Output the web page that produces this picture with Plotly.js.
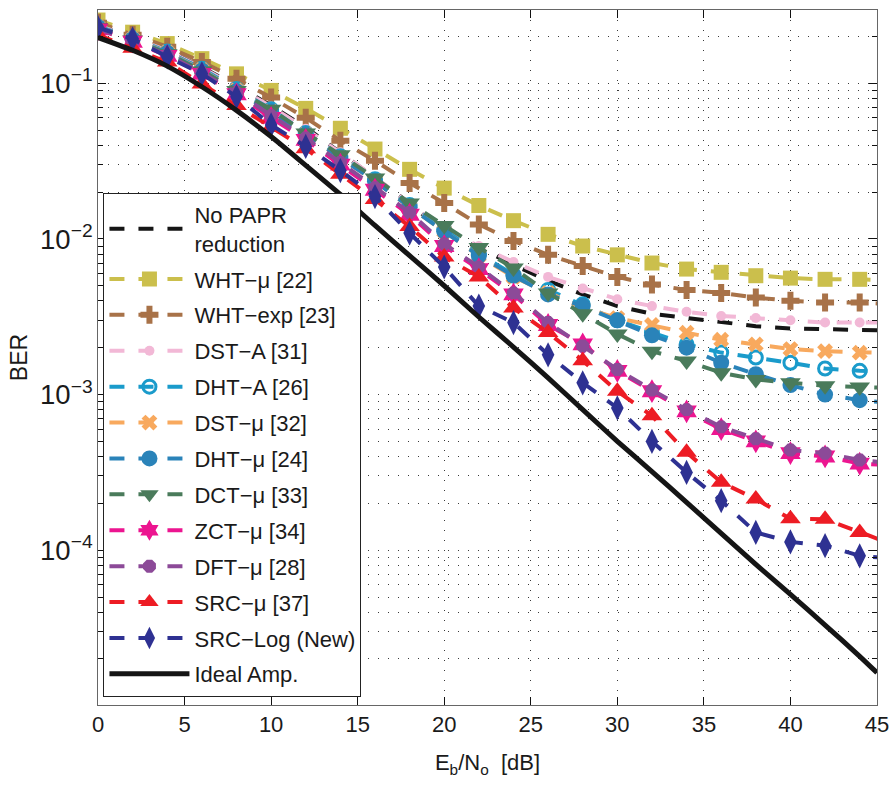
<!DOCTYPE html>
<html>
<head>
<meta charset="utf-8">
<script src="https://cdn.plot.ly/plotly-3.0.1.min.js"></script>
<style>html,body{margin:0;padding:0;background:#fff}</style>
</head>
<body>
<div id="chart" style="width:895px;height:787px"></div>
<script>
// Eb/No sample points (dB); the point at 46 lies past the axis end and only carries the line to the frame
const ebno = [0,2,4,6,8,10,12,14,16,18,20,22,24,26,28,30,32,34,36,38,40,42,44,46];

const noPapr  = [0.235,0.198,0.163,0.127,0.096,0.072,0.052,0.036,0.025,0.017,0.0109,0.0088,0.0068,0.0054,0.0044,0.0037,0.0033,0.0031,0.0029,0.00275,0.00266,0.00262,0.00259,0.00257];
const whtMu   = [0.255,0.213,0.180,0.144,0.115,0.090,0.069,0.0514,0.0378,0.028,0.0212,0.0164,0.0131,0.0107,0.0090,0.0079,0.0070,0.0064,0.0061,0.0058,0.0056,0.0055,0.0055,0.0054];
const whtExp  = [0.245,0.205,0.172,0.137,0.107,0.081,0.060,0.0428,0.0318,0.0229,0.0170,0.0124,0.0097,0.0079,0.0067,0.0057,0.0051,0.0047,0.0045,0.0042,0.0040,0.0039,0.0039,0.0038];
const dstA    = [0.235,0.197,0.162,0.126,0.095,0.071,0.051,0.036,0.025,0.0168,0.0115,0.0090,0.0071,0.0057,0.0048,0.0041,0.0037,0.0034,0.0032,0.0031,0.0030,0.0029,0.0029,0.0029];
const dhtA    = [0.232,0.195,0.160,0.124,0.092,0.068,0.048,0.034,0.0242,0.0165,0.0115,0.0080,0.0059,0.0047,0.0038,0.0030,0.0025,0.0021,0.00186,0.00173,0.00160,0.00147,0.00142,0.00140];
const dstMu   = [0.230,0.193,0.158,0.122,0.090,0.066,0.047,0.033,0.0235,0.016,0.0112,0.0078,0.0057,0.0045,0.0036,0.0031,0.0028,0.0025,0.00225,0.0021,0.00196,0.0019,0.00186,0.00184];
const dhtMu   = [0.230,0.192,0.157,0.121,0.089,0.066,0.047,0.033,0.0235,0.016,0.0112,0.0078,0.0058,0.0044,0.0037,0.0030,0.0024,0.0020,0.0016,0.00135,0.00115,0.0010,0.00092,0.00088];
const dctMu   = [0.228,0.190,0.155,0.120,0.090,0.068,0.048,0.0347,0.0246,0.017,0.0122,0.0088,0.0065,0.0045,0.0033,0.00245,0.0019,0.00164,0.00138,0.00125,0.00119,0.00114,0.00112,0.0011];
const zctMu   = [0.222,0.185,0.150,0.115,0.085,0.060,0.0433,0.030,0.0207,0.0143,0.0090,0.0064,0.0044,0.0028,0.0021,0.00142,0.00105,0.00078,0.00060,0.00050,0.00042,0.00040,0.00036,0.00035];
const dftMu   = [0.224,0.187,0.152,0.117,0.087,0.062,0.0445,0.031,0.0213,0.0148,0.0093,0.0066,0.0045,0.0029,0.00205,0.00145,0.00107,0.00080,0.00062,0.00052,0.00044,0.00042,0.00038,0.00036];
const srcMu   = [0.205,0.168,0.137,0.099,0.072,0.052,0.038,0.026,0.0179,0.012,0.00765,0.0057,0.0036,0.0025,0.00165,0.00105,0.00073,0.000425,0.000273,0.000213,0.000159,0.000158,0.00013,0.000108];
const srcLog  = [0.228,0.193,0.148,0.115,0.082,0.054,0.0393,0.0275,0.0187,0.0109,0.0066,0.0037,0.0029,0.0018,0.00119,0.00082,0.0005,0.000316,0.000208,0.00013,0.000113,0.000107,0.000092,0.000088];

// ideal amplifier reference curve
const idealX = [0,2,4,6,8,10,12,14,16,18,20,22,24,26,28,30,32,34,36,38,40,42,44,45];
const ideal  = [0.197,0.163,0.129,0.095,0.067,0.0455,0.0297,0.0193,0.0122,0.0078,0.0050,0.00315,0.00202,0.00128,0.0008,0.0005,0.00032,0.000203,0.000128,0.000081,0.000052,0.000033,0.0000208,0.0000163];

const seriesNames = ['No PAPR<br>reduction','WHT\u2212\u03bc [22]','WHT\u2212exp [23]','DST\u2212A [31]','DHT\u2212A [26]','DST\u2212\u03bc [32]','DHT\u2212\u03bc [24]','DCT\u2212\u03bc [33]','ZCT\u2212\u03bc [34]','DFT\u2212\u03bc [28]','SRC\u2212\u03bc [37]','SRC\u2212Log (New)','Ideal Amp.'];

const DASH = '15px,14px';
function curve(name, y, color, symbol, size, extra) {
  const t = {
    x: ebno, y: y, name: name, type: 'scatter', mode: 'lines+markers',
    line: {color: color, width: 4, dash: DASH},
    marker: {symbol: symbol, size: size, color: color, line: {width: 0, color: color}},
    cliponaxis: true
  };
  return Object.assign(t, extra || {});
}

const traces = [
  {x: ebno, y: noPapr, name: seriesNames[0], type: 'scatter', mode: 'lines',
   line: {color: '#151515', width: 4, dash: DASH}},
  curve(seriesNames[1], whtMu, '#cbbf4c', 'square', 15),
  curve(seriesNames[2], whtExp, '#a87248', 'cross', 15),
  curve(seriesNames[3], dstA, '#f2b8d6', 'circle', 10),
  curve(seriesNames[4], dhtA, '#1a9bcb', 'circle-open', 13, {marker: {symbol: 'circle-open', size: 13, color: '#1a9bcb', line: {width: 3, color: '#1a9bcb'}}}),
  curve(seriesNames[5], dstMu, '#f8a95e', 'x', 14),
  curve(seriesNames[6], dhtMu, '#2a83b9', 'circle', 16),
  curve(seriesNames[7], dctMu, '#4a7b5b', 'triangle-down', 18),
  curve(seriesNames[8], zctMu, '#ec1590', 'hexagram', 18),
  curve(seriesNames[9], dftMu, '#8c4a98', 'octagon', 14),
  curve(seriesNames[10], srcMu, '#ed1c24', 'triangle-up', 18),
  curve(seriesNames[11], srcLog, '#2e3192', 'diamond-tall', 18),
  {x: idealX, y: ideal, name: seriesNames[12], type: 'scatter', mode: 'lines',
   line: {color: '#151515', width: 5, shape: 'spline', smoothing: 0.5}}
];
// one legend group per curve, so the group gap sets the spacing between entries
traces.forEach((t, i) => { t.legendgroup = 'g' + i; });

const FONT = 'Liberation Sans, Arial, Helvetica, sans-serif';
const GRID = '#3a3a3a';

const layout = {
  width: 895, height: 787,
  margin: {l: 98, r: 18, t: 10, b: 82},
  paper_bgcolor: '#fff', plot_bgcolor: '#fff',
  font: {family: FONT, size: 22, color: '#1a1a1a'},
  showlegend: true,
  legend: {
    x: 0.007, y: 0.012, xanchor: 'left', yanchor: 'bottom',
    bgcolor: '#fff', bordercolor: '#222', borderwidth: 1,
    font: {family: FONT, size: 22, color: '#1a1a1a'},
    itemwidth: 80, tracegroupgap: 4.3, traceorder: 'grouped'
  },
  xaxis: {
    range: [0, 45], dtick: 5, tick0: 0,
    ticks: 'inside', ticklen: 8, tickcolor: '#111', tickwidth: 1,
    showline: true, linecolor: '#666', linewidth: 1, mirror: 'allticks',
    showgrid: true, gridcolor: GRID, griddash: '1px,9px', gridwidth: 1,
    zeroline: false,
    tickfont: {family: FONT, size: 22, color: '#1a1a1a'},
    title: {text: 'E<sub>b</sub>/N<sub>o</sub>  [dB]', font: {family: FONT, size: 22, color: '#1a1a1a'}, standoff: 18}
  },
  yaxis: {
    type: 'log', range: [-4.995, -0.529], dtick: 1,
    exponentformat: 'power', showexponent: 'all',
    ticks: 'inside', ticklen: 8, tickcolor: '#111', tickwidth: 1,
    showline: true, linecolor: '#666', linewidth: 1, mirror: 'allticks',
    showgrid: true, gridcolor: GRID, griddash: '1px,9px', gridwidth: 1,
    minor: {dtick: 'D1', ticks: 'inside', ticklen: 5, tickcolor: '#111',
            showgrid: true, gridcolor: GRID, griddash: '1px,9px', gridwidth: 1},
    zeroline: false,
    tickfont: {family: FONT, size: 22, color: '#1a1a1a'},
    title: {text: 'BER', font: {family: FONT, size: 23, color: '#1a1a1a'}, standoff: 6}
  }
};

Plotly.newPlot('chart', traces, layout, {displayModeBar: false, staticPlot: true});
</script>
</body>
</html>
